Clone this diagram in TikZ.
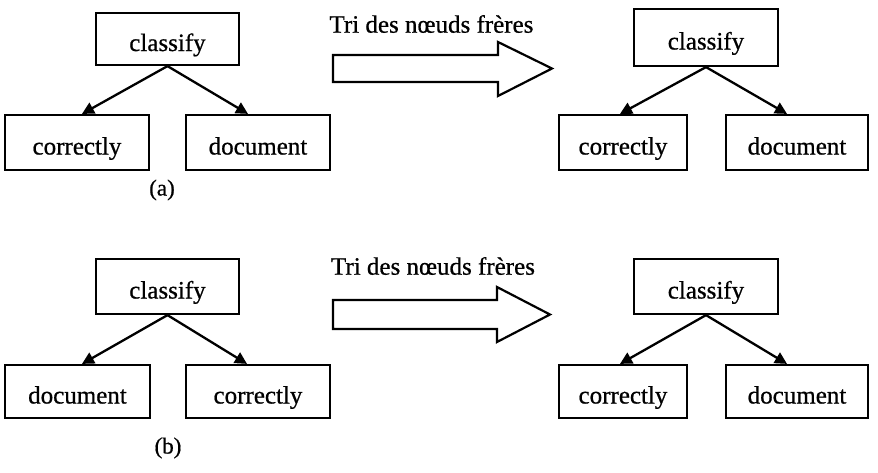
\documentclass[tikz,border=0pt]{standalone}
\usepackage{fontspec}
\setmainfont{Liberation Serif}
\newfontfamily\heavyserif{Liberation Serif}[FakeBold=0.7]
\usetikzlibrary{arrows.meta}
\begin{document}
\begin{tikzpicture}[x=1pt,y=-1pt,
  treebox/.style={draw,line width=2.2pt,inner sep=0pt,fill=white,
    text height=24pt,text depth=0pt,
    font=\heavyserif\fontsize{25}{28}\selectfont},
  edge/.style={line width=2.3pt,-{Triangle[length=12pt,width=12pt]}},
  caption/.style={font=\heavyserif\fontsize{23}{26}\selectfont},
  heading/.style={font=\heavyserif\fontsize{25}{28}\selectfont},
  bigarrow/.style={draw,line width=2.2pt,fill=white,line join=miter}]
\useasboundingbox (0,0) rectangle (878,472);
% panel (a) left
\node[treebox,minimum width=143pt,minimum height=52pt] (c1) at (167.5,39) {classify};
\node[treebox,minimum width=144pt,minimum height=55pt] (l1) at (77,142.5) {correctly};
\node[treebox,minimum width=144pt,minimum height=55pt] (r1) at (258,142.5) {document};
\draw[edge] (c1.south) -- ([xshift=5pt]l1.north);
\draw[edge] (c1.south) -- ([xshift=-10pt]r1.north);
\node[caption] (la) at (162,190) {(a)};
% arrow (a)
\node[heading] (t1) at (431.5,24) {Tri des nœuds frères};
\draw[bigarrow] (333,55) -- (498,55) -- (498,42) -- (552,68.5) -- (498,96) -- (498,82) -- (333,82) -- cycle;
% panel (a) right
\node[treebox,minimum width=144pt,minimum height=57pt] (c2) at (706,37.5) {classify};
\node[treebox,minimum width=128pt,minimum height=55pt] (l2) at (623,142.5) {correctly};
\node[treebox,minimum width=142pt,minimum height=55pt] (r2) at (797,142.5) {document};
\draw[edge] (c2.south) -- ([xshift=-3pt]l2.north);
\draw[edge] (c2.south) -- ([xshift=-10pt]r2.north);
% panel (b) left
\node[treebox,minimum width=143pt,minimum height=55pt] (c3) at (167.5,286.5) {classify};
\node[treebox,minimum width=145pt,minimum height=53pt] (l3) at (77.5,391.5) {document};
\node[treebox,minimum width=144pt,minimum height=53pt] (r3) at (258,391.5) {correctly};
\draw[edge] (c3.south) -- ([xshift=4.5pt]l3.north);
\draw[edge] (c3.south) -- ([xshift=-11pt]r3.north);
\node[caption] (lb) at (168,448) {(b)};
% arrow (b)
\node[heading] (t2) at (433,266) {Tri des nœuds frères};
\draw[bigarrow] (333,300) -- (497,300) -- (497,287) -- (550,314.5) -- (497,342) -- (497,329) -- (333,329) -- cycle;
% panel (b) right
\node[treebox,minimum width=144pt,minimum height=55pt] (c4) at (706,286.5) {classify};
\node[treebox,minimum width=128pt,minimum height=53pt] (l4) at (623,391.5) {correctly};
\node[treebox,minimum width=142pt,minimum height=53pt] (r4) at (797,391.5) {document};
\draw[edge] (c4.south) -- ([xshift=-3pt]l4.north);
\draw[edge] (c4.south) -- ([xshift=-10pt]r4.north);
\end{tikzpicture}
\end{document}
